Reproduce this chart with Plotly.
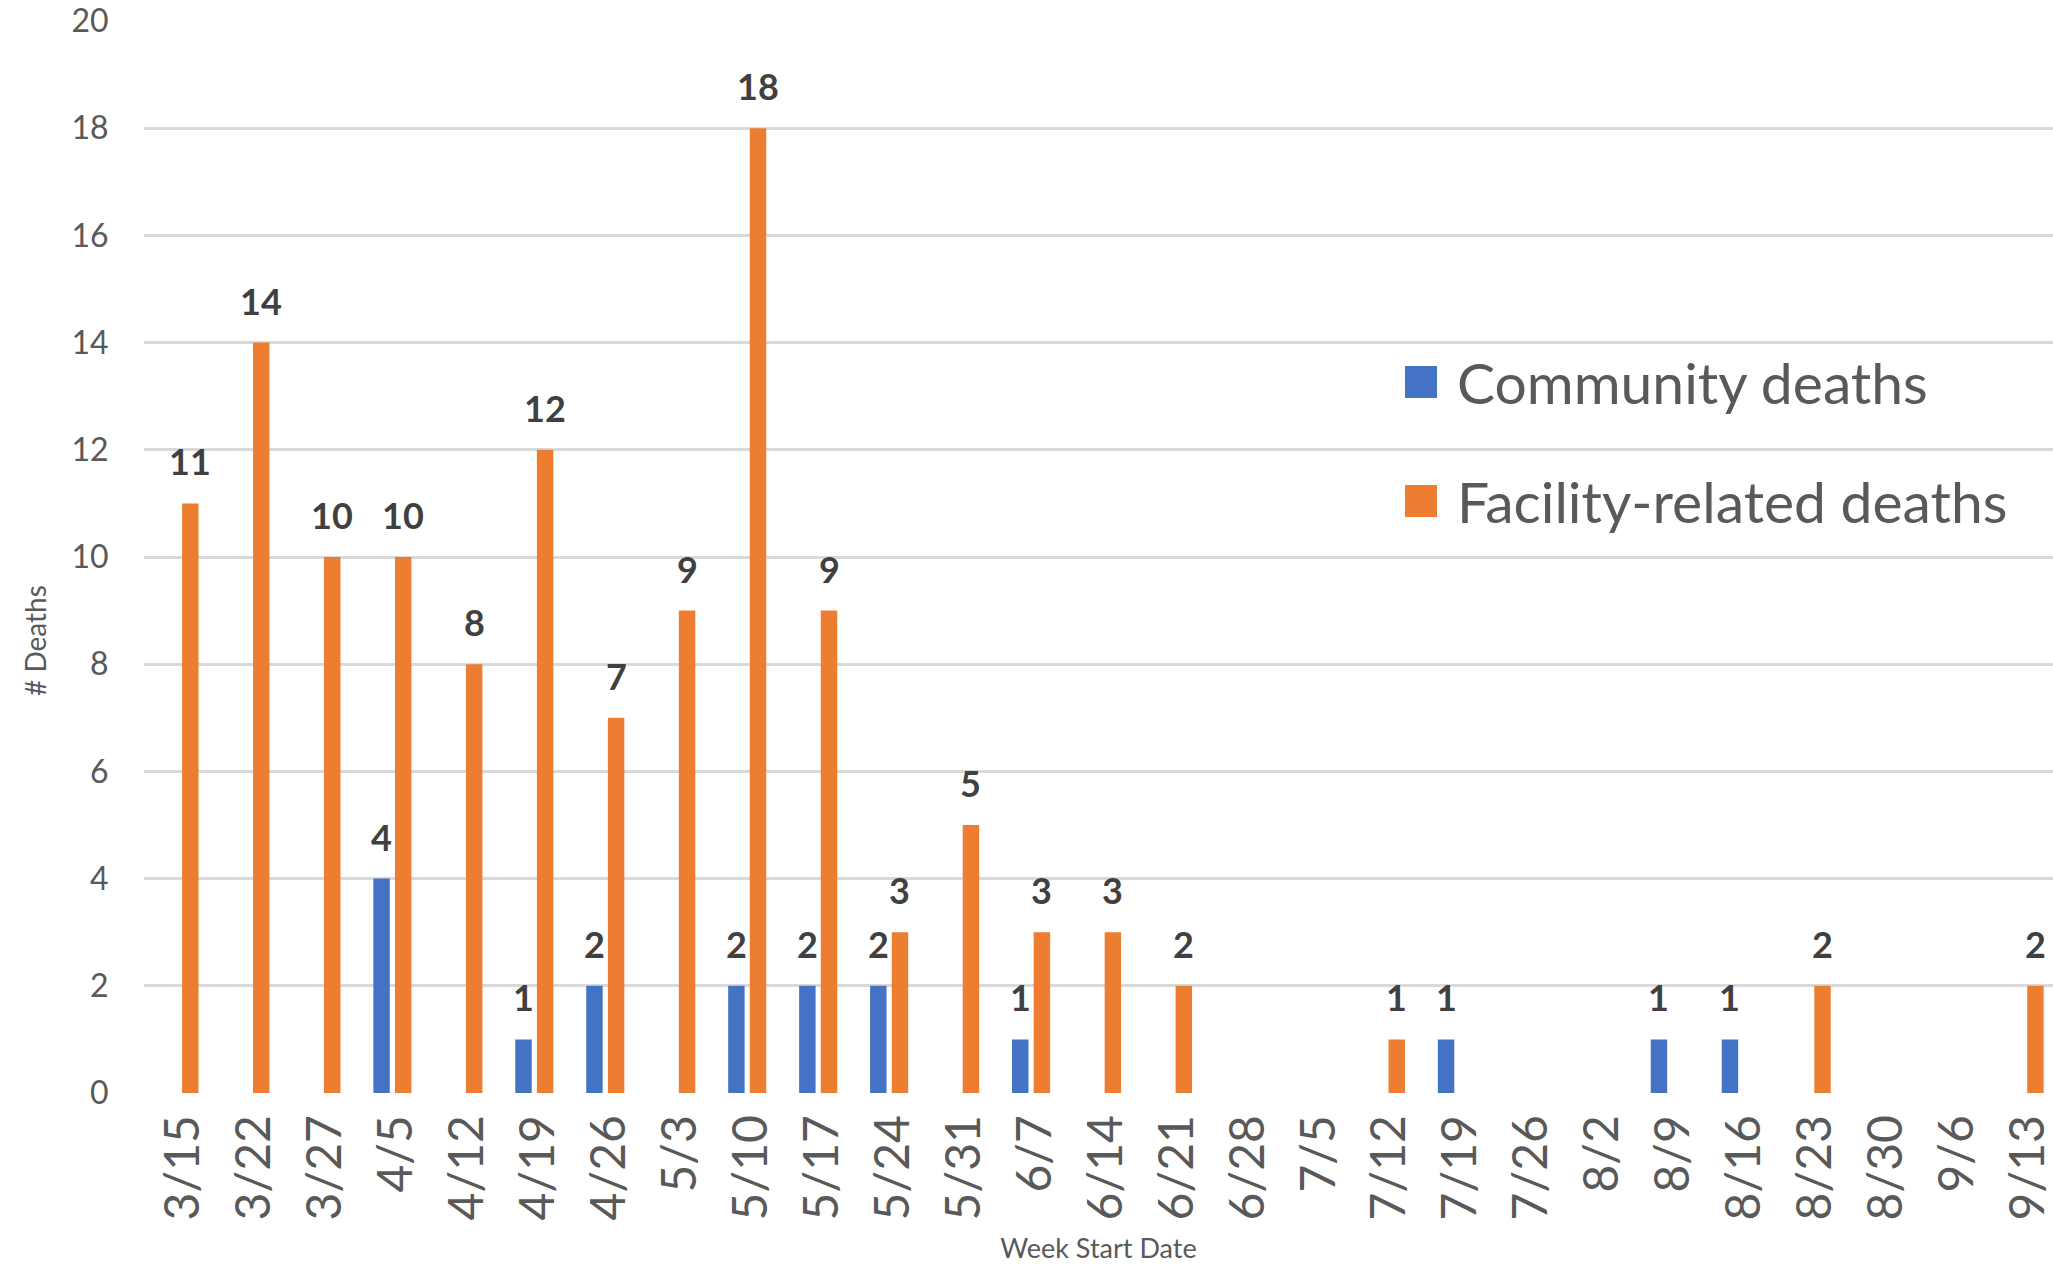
import plotly.graph_objects as go

# ---------------- data ----------------
weeks = ["3/15", "3/22", "3/27", "4/5", "4/12", "4/19", "4/26", "5/3", "5/10",
         "5/17", "5/24", "5/31", "6/7", "6/14", "6/21", "6/28", "7/5", "7/12",
         "7/19", "7/26", "8/2", "8/9", "8/16", "8/23", "8/30", "9/6", "9/13"]
community_deaths = [0, 0, 0, 4, 0, 1, 2, 0, 2, 2, 2, 0, 1, 0, 0, 0, 0, 0,
                    1, 0, 0, 1, 1, 0, 0, 0, 0]
facility_deaths = [11, 14, 10, 10, 8, 12, 7, 9, 18, 9, 3, 5, 3, 3, 2, 0, 0, 1,
                   0, 0, 0, 0, 0, 2, 0, 0, 2]
series_names = ["Community deaths", "Facility-related deaths"]
y_ticks = [0, 2, 4, 6, 8, 10, 12, 14, 16, 18, 20]

# ---------------- style ----------------
W, H = 2053, 1264
ML, MR, MT, MB = 144, 0, 21, 171
PLOT_W = W - ML - MR
PLOT_H = H - MT - MB
BARGAP = 0.39
GROUPGAP = 0.24
X_RANGE = [-0.5, len(weeks) - 0.6]   # original chart is slightly cropped at the right
BLUE = "#4472C4"
ORANGE = "#ED7D31"
AXIS_TXT = "#595959"
LABEL_TXT = "#404040"
FONT = "Lato"

fig = go.Figure()
fig.add_trace(go.Bar(x=weeks, y=community_deaths, name=series_names[0],
                     marker=dict(color=BLUE, line=dict(width=0))))
fig.add_trace(go.Bar(x=weeks, y=facility_deaths, name=series_names[1],
                     marker=dict(color=ORANGE, line=dict(width=0))))

# data labels (non-zero values only), placed above each bar of the group
cat_w = PLOT_W / (X_RANGE[1] - X_RANGE[0])
off = cat_w * (1 - BARGAP) / 4
annotations = []
for vals, sign in ((community_deaths, -1), (facility_deaths, 1)):
    for wk, v in zip(weeks, vals):
        if v > 0:
            annotations.append(dict(
                x=wk, y=v, xref="x", yref="y", text=str(v), showarrow=False,
                xshift=sign * off, yshift=18, yanchor="bottom",
                font=dict(family=FONT, size=36, color=LABEL_TXT, weight="bold")))

def px_x(p):
    return (p - ML) / PLOT_W

def px_y(p):
    return (H - MB - p) / PLOT_H

# y-axis title (centred on the whole chart height, as in the original)
annotations.append(dict(x=px_x(35), y=px_y(641), xref="paper", yref="paper",
                        text="# Deaths", textangle=-90, showarrow=False,
                        xanchor="center", yanchor="middle",
                        font=dict(family=FONT, size=28, color=AXIS_TXT)))

# manual legend (large square swatches like the original)
shapes = []
for name, col, cy in ((series_names[0], BLUE, 382), (series_names[1], ORANGE, 501)):
    shapes.append(dict(type="rect", xref="paper", yref="paper",
                       x0=px_x(1405), x1=px_x(1437), y0=px_y(cy + 16), y1=px_y(cy - 16),
                       fillcolor=col, line=dict(width=0), layer="above"))
    annotations.append(dict(x=px_x(1455), y=px_y(cy), xref="paper", yref="paper",
                            text=name, showarrow=False, xanchor="left", yanchor="middle",
                            font=dict(family=FONT, size=57, color=AXIS_TXT)))

fig.update_layout(
    width=W, height=H,
    margin=dict(l=ML, r=MR, t=MT, b=MB, autoexpand=False),
    paper_bgcolor="white", plot_bgcolor="white",
    barmode="group", bargap=BARGAP, bargroupgap=GROUPGAP,
    showlegend=False,
    font=dict(family=FONT, color=AXIS_TXT),
    annotations=annotations, shapes=shapes,
    xaxis=dict(
        type="category", tickangle=-90, range=X_RANGE,
        tickfont=dict(family=FONT, size=48, color=AXIS_TXT),
        ticks="outside", ticklen=2, tickcolor="rgba(0,0,0,0)",
        ticklabelshift=4,
        showgrid=False, showline=False, zeroline=False,
        title=dict(text="Week Start Date", standoff=20,
                   font=dict(family=FONT, size=27, color=AXIS_TXT)),
    ),
    yaxis=dict(
        range=[0, 20], tickvals=y_ticks,
        tickfont=dict(family=FONT, size=32, color=AXIS_TXT),
        ticks="outside", ticklen=28, tickcolor="rgba(0,0,0,0)",
        showgrid=True, gridcolor="#D9D9D9", gridwidth=2.5,
        showline=False, zeroline=False,
    ),
)

fig.write_html("out.html",
               config={"displayModeBar": False},
               post_script="document.body.style.margin='0';document.body.style.overflow='hidden';")
